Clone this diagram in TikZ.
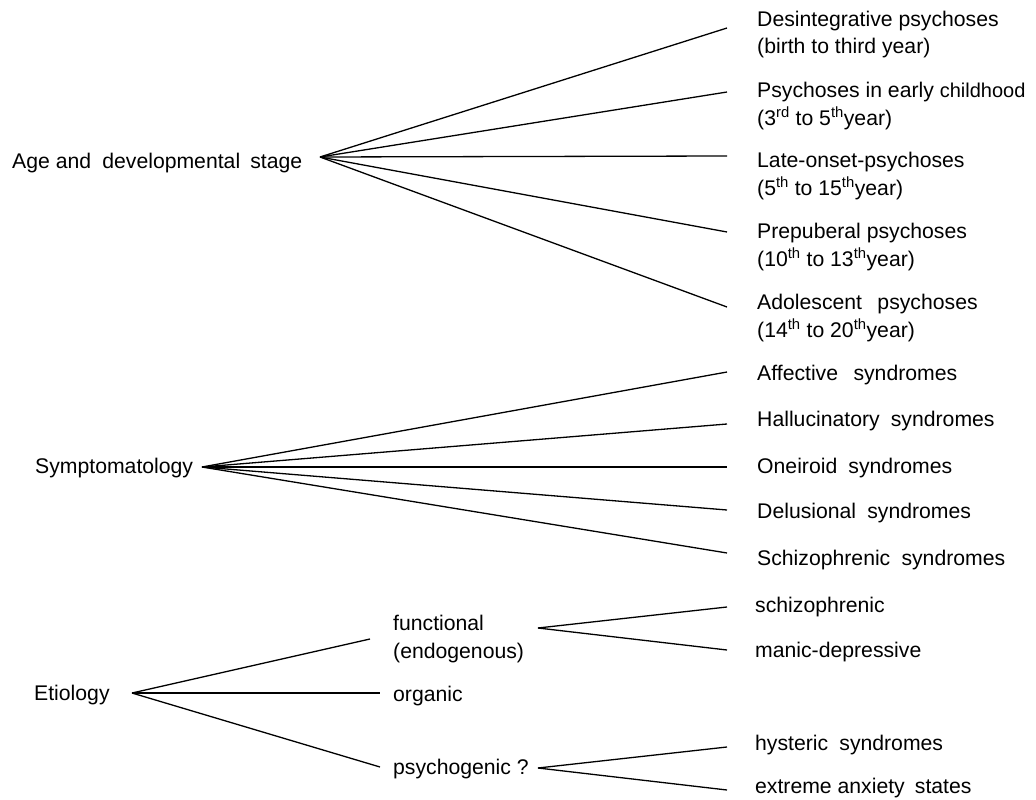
\documentclass[tikz,border=0pt]{standalone}
\usepackage{fontspec}
\setmainfont{Liberation Sans}
\begin{document}
\begin{tikzpicture}[x=1pt,y=-1pt,
  lbl/.style={anchor=base west,inner sep=0pt,font=\fontsize{21.2}{27.5}\selectfont,align=left},
  br/.style={line width=1.3pt,line join=round}]
\useasboundingbox (0,0) rectangle (1036,800);
% ---- roots
\node[lbl] (age) at (12,168) {Age and\hspace{0.25em} developmental\hspace{0.2em} stage};
\node[lbl] (sym) at (35,473) {Symptomatology};
\node[lbl] (eti) at (34,700) {Etiology};
\coordinate (ageR) at (320,157);
\coordinate (symR) at (202,467);
\coordinate (etiR) at (132,693);
% ---- age labels (base = last line)
\node[lbl] (a1) at (757,54) {Desintegrative psychoses\\(birth to third year)};
\node[lbl] (a2) at (757,125) {Psychoses in early {\fontsize{20}{27.5}\selectfont childhood}\\(3\textsuperscript{rd} to 5\textsuperscript{th}year)};
\node[lbl] (a3) at (757,195) {Late-onset-psychoses\\(5\textsuperscript{th} to 15\textsuperscript{th}year)};
\node[lbl] (a4) at (757,266) {Prepuberal psychoses\\(10\textsuperscript{th} to 13\textsuperscript{th}year)};
\node[lbl] (a5) at (757,337) {Adolescent\hspace{0.45em} psychoses\\(14\textsuperscript{th} to 20\textsuperscript{th}year)};
\coordinate (a1e) at (727,28);
\coordinate (a2e) at (727,92);
\coordinate (a3e) at (727,156);
\coordinate (a4e) at (727,232);
\coordinate (a5e) at (727,307);
% ---- symptom labels
\node[lbl] (s1) at (757,380) {Affective\hspace{0.45em} syndromes};
\node[lbl] (s2) at (757,426) {Hallucinatory\hspace{0.25em} syndromes};
\node[lbl] (s3) at (757,473) {Oneiroid\hspace{0.25em} syndromes};
\node[lbl] (s4) at (757,518) {Delusional\hspace{0.25em} syndromes};
\node[lbl] (s5) at (757,565) {Schizophrenic\hspace{0.25em} syndromes};
\coordinate (s1e) at (727,372);
\coordinate (s2e) at (727,424);
\coordinate (s3e) at (727,467);
\coordinate (s4e) at (727,510);
\coordinate (s5e) at (727,553);
% ---- etiology
\node[lbl] (fun) at (393,658) {functional\\(endogenous)};
\node[lbl] (org) at (393,701) {organic};
\node[lbl] (psy) at (393,774) {psychogenic ?};
\coordinate (fune) at (370,639);
\coordinate (orge) at (380,693);
\coordinate (psye) at (380,767);
\coordinate (funR) at (538,628);
\coordinate (psyR) at (538,768);
\node[lbl] (f1) at (755,612) {schizophrenic};
\node[lbl] (f2) at (755,657) {manic-depressive};
\node[lbl] (p1) at (755,750) {hysteric\hspace{0.25em} syndromes};
\node[lbl] (p2) at (755,793) {extreme anxiety\hspace{0.2em} states};
\coordinate (f1e) at (727,607);
\coordinate (f2e) at (727,650);
\coordinate (p1e) at (727,747);
\coordinate (p2e) at (727,790);
% ---- connectors
\foreach \e in {a1e,a2e,a3e,a4e,a5e} \draw[br] (ageR) -- (\e);
\foreach \e in {s1e,s2e,s3e,s4e,s5e} \draw[br] (symR) -- (\e);
\foreach \e in {fune,orge,psye} \draw[br] (etiR) -- (\e);
\foreach \e in {f1e,f2e} \draw[br] (funR) -- (\e);
\foreach \e in {p1e,p2e} \draw[br] (psyR) -- (\e);
\end{tikzpicture}
\end{document}
